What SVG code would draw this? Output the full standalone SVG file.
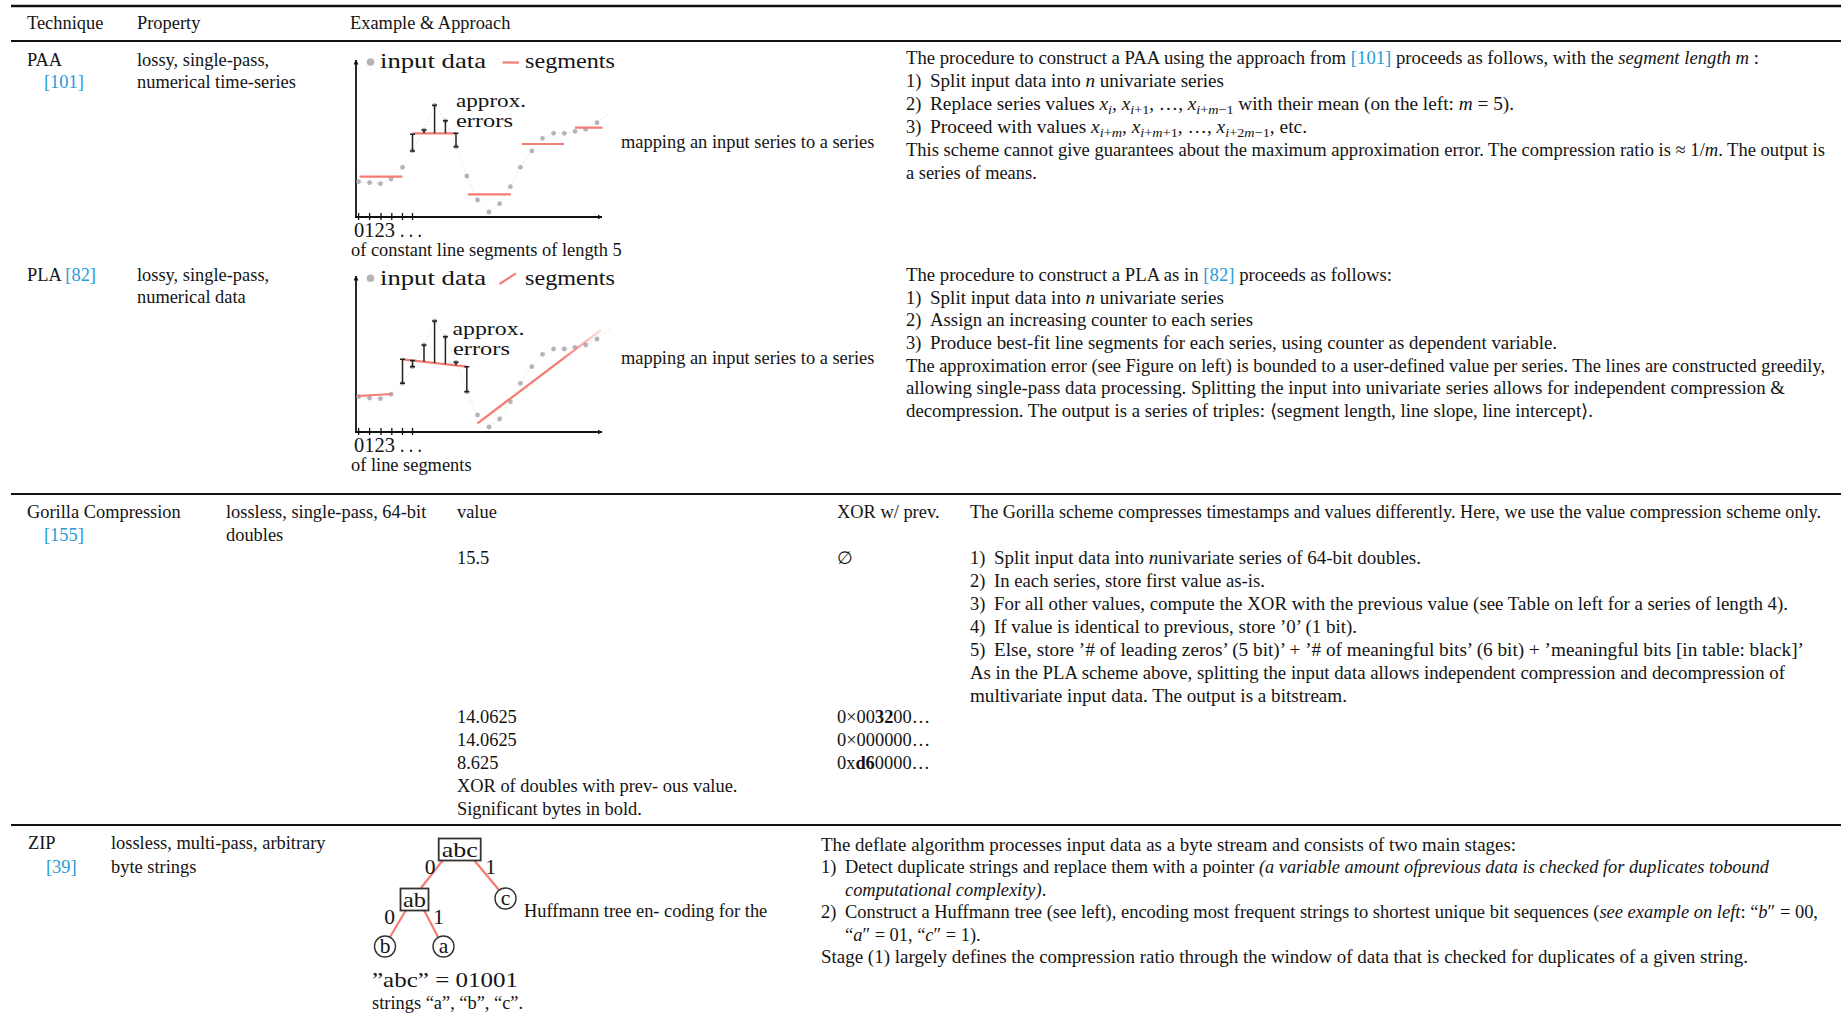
<svg xmlns="http://www.w3.org/2000/svg" width="1847" height="1028" viewBox="0 0 1847 1028">
<style>
.t{font-family:'Liberation Serif','Times New Roman',serif;font-size:18.4px;fill:#141414}
.cm{font-family:'Liberation Serif','Times New Roman',serif;font-size:21px;fill:#141414}
.cs{font-family:'Liberation Serif','Times New Roman',serif;font-size:18px;fill:#141414}
.tr{font-family:'Liberation Serif','Times New Roman',serif;font-size:21.5px;fill:#141414}
.c{fill:#2a9bd6}
.i{font-style:italic}
.b{font-weight:bold}
.rule{stroke:#111;stroke-width:2.2}
.ax{stroke:#111;stroke-width:1.8;fill:none}
.seg{stroke:#f47c74;stroke-width:2.2;fill:none}
.dot{fill:#b3b3b8}
.faint{stroke:#e2e2e4;stroke-width:1;stroke-dasharray:1.5 2;fill:none}
.err{stroke:#222;stroke-width:1.5;fill:none}
.edge{stroke:#f47c74;stroke-width:2.2}
.nbox{fill:#fff;stroke:#333;stroke-width:1.8}
.ncirc{fill:#fff;stroke:#333;stroke-width:1.4}
.sub{font-size:13.5px}
</style>
<defs>
<marker id="arr" viewBox="0 0 10 10" refX="9" refY="5" markerWidth="5" markerHeight="5" orient="auto" markerUnits="userSpaceOnUse">
<path d="M0,0 L10,5 L0,10 z" fill="#111"/>
</marker>
<linearGradient id="fade" gradientUnits="userSpaceOnUse" x1="560" y1="360" x2="602" y2="329">
<stop offset="0" stop-color="#f47c74" stop-opacity="1"/>
<stop offset="1" stop-color="#f47c74" stop-opacity="0.2"/>
</linearGradient>
</defs>
<rect width="1847" height="1028" fill="#fff"/>

<g id="rules">
<line class="rule" x1="11" y1="6" x2="1841" y2="6" style="stroke-width:2.5"/>
<line class="rule" x1="11" y1="41" x2="1841" y2="41"/>
<line class="rule" x1="11" y1="494" x2="1841" y2="494"/>
<line class="rule" x1="11" y1="825" x2="1841" y2="825"/>
</g>

<g id="header" class="t">
<text x="27" y="29">Technique</text>
<text x="137" y="29">Property</text>
<text x="350" y="29">Example &amp; Approach</text>
</g>

<!-- PAA row -->
<g id="paa-row">
<g class="t">
<text x="27" y="66">PAA</text>
<text x="44" y="87.5" class="c">[101]</text>
<text x="137" y="66">lossy, single-pass,</text>
<text x="137" y="88">numerical time-series</text>
</g>
<g id="paa-chart">
<polyline class="faint" points="358.6,181.7 369.6,182.7 380.4,183.7 391,179 402.5,167.3 412.5,150.7 424,130 434.6,105.3 445.4,120.7 456,146.7 466.8,176 477.5,200 489,212 499.6,203.7 510.4,186.7 520.4,167.3 531.8,151 542.5,138.3 553.6,133.3 564.3,133.3 575,131.3 585.7,129.3 597,122.7 611,112"/>
<line class="ax" x1="356" y1="218" x2="356" y2="60" marker-end="url(#arr)"/>
<line class="ax" x1="355" y1="217" x2="602" y2="217" marker-end="url(#arr)"/>
<path class="ax" style="stroke-width:1.3" d="M358.6,213V220M369.6,213V220M381,213V220M391.8,213V220M402.5,213V220M412.5,213V220"/>
<g class="dot">
<circle cx="358.6" cy="181.7" r="2.4"/><circle cx="369.6" cy="182.7" r="2.4"/><circle cx="380.4" cy="183.7" r="2.4"/><circle cx="391" cy="179" r="2.4"/><circle cx="402.5" cy="167.3" r="2.4"/><circle cx="412.5" cy="150.7" r="2.4"/><circle cx="424" cy="130" r="2.4"/><circle cx="434.6" cy="105.3" r="2.4"/><circle cx="445.4" cy="120.7" r="2.4"/><circle cx="456" cy="146.7" r="2.4"/><circle cx="466.8" cy="176" r="2.4"/><circle cx="477.5" cy="200" r="2.4"/><circle cx="489" cy="212" r="2.4"/><circle cx="499.6" cy="203.7" r="2.4"/><circle cx="510.4" cy="186.7" r="2.4"/><circle cx="520.4" cy="167.3" r="2.4"/><circle cx="531.8" cy="151" r="2.4"/><circle cx="542.5" cy="138.3" r="2.4"/><circle cx="553.6" cy="133.3" r="2.4"/><circle cx="564.3" cy="133.3" r="2.4"/><circle cx="575" cy="131.3" r="2.4"/><circle cx="585.7" cy="129.3" r="2.4"/><circle cx="597" cy="122.7" r="2.4"/>
</g>
<path class="seg" d="M359.6,176.7H402.5M412.5,133.3H456M467.9,194.3H510.7M522,144H564M575,127.7H602.5"/>
<path class="err" d="M412.5,134.3V151M410,134.3H415M410,151H415M424,130V133.3M421.5,130H426.5M434.6,105.3V133.3M432.1,105.3H437.1M445.4,120.7V133.3M442.9,120.7H447.9M456,133.3V146.7M453.5,146.7H458.5M453.5,133.3H458.5"/>
<circle class="dot" cx="370.5" cy="62" r="3.8"/>
<line class="seg" x1="502.5" y1="62.5" x2="519" y2="62.5"/>
<text class="cm" x="380" y="68" textLength="106" lengthAdjust="spacingAndGlyphs">input data</text>
<text class="cm" x="525" y="68" textLength="90" lengthAdjust="spacingAndGlyphs">segments</text>
<text class="cs" x="456" y="106.5" textLength="70" lengthAdjust="spacingAndGlyphs">approx.</text>
<text class="cs" x="456" y="126.5" textLength="57" lengthAdjust="spacingAndGlyphs">errors</text>
<text class="cm" x="354" y="237" textLength="41" lengthAdjust="spacingAndGlyphs">0123</text>
<text class="cm" x="400" y="237" textLength="22" lengthAdjust="spacingAndGlyphs">. . .</text>
<text class="t" x="621" y="148">mapping an input series to a series</text>
<text class="t" x="351" y="256">of constant line segments of length 5</text>
</g>
<g id="paa-text" class="t">
<text x="906" y="64" textLength="853" lengthAdjust="spacingAndGlyphs">The procedure to construct a PAA using the approach from <tspan class="c">[101]</tspan> proceeds as follows, with the <tspan class="i">segment length m</tspan> :</text>
<text x="906" y="87">1)</text><text x="930" y="87" textLength="294" lengthAdjust="spacingAndGlyphs">Split input data into <tspan class="i">n</tspan> univariate series</text>
<text x="906" y="110">2)</text><text x="930" y="110" textLength="584" lengthAdjust="spacingAndGlyphs">Replace series values <tspan class="i">x</tspan><tspan class="sub i" dy="4">i</tspan><tspan dy="-4">, </tspan><tspan class="i">x</tspan><tspan class="sub" dy="4"><tspan class="i">i</tspan>+1</tspan><tspan dy="-4">, …, </tspan><tspan class="i">x</tspan><tspan class="sub" dy="4"><tspan class="i">i</tspan>+<tspan class="i">m</tspan>−1</tspan><tspan dy="-4"> with their mean (on the left: </tspan><tspan class="i">m</tspan> = 5).</text>
<text x="906" y="133">3)</text><text x="930" y="133" textLength="377" lengthAdjust="spacingAndGlyphs">Proceed with values <tspan class="i">x</tspan><tspan class="sub" dy="4"><tspan class="i">i</tspan>+<tspan class="i">m</tspan></tspan><tspan dy="-4">, </tspan><tspan class="i">x</tspan><tspan class="sub" dy="4"><tspan class="i">i</tspan>+<tspan class="i">m</tspan>+1</tspan><tspan dy="-4">, …, </tspan><tspan class="i">x</tspan><tspan class="sub" dy="4"><tspan class="i">i</tspan>+2<tspan class="i">m</tspan>−1</tspan><tspan dy="-4">, etc.</tspan></text>
<text x="906" y="156" textLength="919" lengthAdjust="spacingAndGlyphs">This scheme cannot give guarantees about the maximum approximation error. The compression ratio is ≈ 1/<tspan class="i">m</tspan>. The output is</text>
<text x="906" y="179">a series of means.</text>
</g>
</g>

<!-- PLA row -->
<g id="pla-row">
<g class="t">
<text x="27" y="281">PLA <tspan class="c">[82]</tspan></text>
<text x="137" y="281">lossy, single-pass,</text>
<text x="137" y="303">numerical data</text>
</g>
<g id="pla-chart">
<polyline class="faint" points="358.6,396.7 369.6,398 380.4,398.7 391,394.3 402.5,383.3 412.5,366.7 424,345 434.6,321 445.4,336.7 456,362.3 466.8,391.7 477.5,415 489,427 499.6,419 510.4,401.7 520.4,383.3 531.8,366.7 542.5,354.3 553.6,349 564.3,349 575,347.3 585.7,345 597,339 611,328"/>
<line class="ax" x1="356" y1="433" x2="356" y2="276" marker-end="url(#arr)"/>
<line class="ax" x1="355" y1="432" x2="602" y2="432" marker-end="url(#arr)"/>
<path class="ax" style="stroke-width:1.3" d="M358.6,428V435M369.6,428V435M381,428V435M391.8,428V435M402.5,428V435M412.5,428V435"/>
<g class="dot">
<circle cx="358.6" cy="396.7" r="2.4"/><circle cx="369.6" cy="398" r="2.4"/><circle cx="380.4" cy="398.7" r="2.4"/><circle cx="391" cy="394.3" r="2.4"/><circle cx="402.5" cy="383.3" r="2.4"/><circle cx="412.5" cy="366.7" r="2.4"/><circle cx="424" cy="345" r="2.4"/><circle cx="434.6" cy="321" r="2.4"/><circle cx="445.4" cy="336.7" r="2.4"/><circle cx="456" cy="362.3" r="2.4"/><circle cx="466.8" cy="391.7" r="2.4"/><circle cx="477.5" cy="415" r="2.4"/><circle cx="489" cy="427" r="2.4"/><circle cx="499.6" cy="419" r="2.4"/><circle cx="510.4" cy="401.7" r="2.4"/><circle cx="520.4" cy="383.3" r="2.4"/><circle cx="531.8" cy="366.7" r="2.4"/><circle cx="542.5" cy="354.3" r="2.4"/><circle cx="553.6" cy="349" r="2.4"/><circle cx="564.3" cy="349" r="2.4"/><circle cx="575" cy="347.3" r="2.4"/><circle cx="585.7" cy="345" r="2.4"/><circle cx="597" cy="339" r="2.4"/>
</g>
<path class="seg" d="M357.9,396L391.8,394M402.5,359.3L466.8,366.7"/>
<line x1="477.5" y1="423.3" x2="601" y2="330" stroke="url(#fade)" stroke-width="2.2"/>
<path class="err" d="M402.5,359.3V383.3M400,359.3H405M400,383.3H405M412.5,360.5V366.7M410,360.5H415M410,366.7H415M424,345V361.8M421.5,345H426.5M434.6,321V363M432.1,321H437.1M445.4,336.7V364.2M442.9,336.7H447.9M456,362.3V365.5M453.5,362.3H458.5M466.8,366.7V391.7M464.3,366.7H469.3M464.3,391.7H469.3"/>
<circle class="dot" cx="370.5" cy="278.3" r="3.8"/>
<line class="seg" x1="499.6" y1="284" x2="516" y2="273.3"/>
<text class="cm" x="380" y="284.5" textLength="106" lengthAdjust="spacingAndGlyphs">input data</text>
<text class="cm" x="525" y="284.5" textLength="90" lengthAdjust="spacingAndGlyphs">segments</text>
<text class="cs" x="452.5" y="334.5" textLength="72" lengthAdjust="spacingAndGlyphs">approx.</text>
<text class="cs" x="453" y="354.5" textLength="57" lengthAdjust="spacingAndGlyphs">errors</text>
<text class="cm" x="354" y="452" textLength="41" lengthAdjust="spacingAndGlyphs">0123</text>
<text class="cm" x="400" y="452" textLength="22" lengthAdjust="spacingAndGlyphs">. . .</text>
<text class="t" x="621" y="364">mapping an input series to a series</text>
<text class="t" x="351" y="471">of line segments</text>
</g>
<g id="pla-text" class="t">
<text x="906" y="281" textLength="486" lengthAdjust="spacingAndGlyphs">The procedure to construct a PLA as in <tspan class="c">[82]</tspan> proceeds as follows:</text>
<text x="906" y="303.5">1)</text><text x="930" y="303.5" textLength="294" lengthAdjust="spacingAndGlyphs">Split input data into <tspan class="i">n</tspan> univariate series</text>
<text x="906" y="326">2)</text><text x="930" y="326" textLength="323" lengthAdjust="spacingAndGlyphs">Assign an increasing counter to each series</text>
<text x="906" y="348.5">3)</text><text x="930" y="348.5" textLength="627" lengthAdjust="spacingAndGlyphs">Produce best-fit line segments for each series, using counter as dependent variable.</text>
<text x="906" y="371.5" textLength="919" lengthAdjust="spacingAndGlyphs">The approximation error (see Figure on left) is bounded to a user-defined value per series. The lines are constructed greedily,</text>
<text x="906" y="394" textLength="879" lengthAdjust="spacingAndGlyphs">allowing single-pass data processing. Splitting the input into univariate series allows for independent compression &amp;</text>
<text x="906" y="417" textLength="687" lengthAdjust="spacingAndGlyphs">decompression. The output is a series of triples: ⟨segment length, line slope, line intercept⟩.</text>
</g>
</g>

<!-- Gorilla row -->
<g id="gorilla-row" class="t">
<text x="27" y="518">Gorilla Compression</text>
<text x="44" y="541" class="c">[155]</text>
<text x="226" y="518">lossless, single-pass, 64-bit</text>
<text x="226" y="541">doubles</text>
<text x="457" y="518">value</text>
<text x="837" y="518">XOR w/ prev.</text>
<text x="457" y="564">15.5</text>
<text x="837" y="564">∅</text>
<text x="457" y="723">14.0625</text>
<text x="837" y="723">0×00<tspan class="b">32</tspan>00…</text>
<text x="457" y="746">14.0625</text>
<text x="837" y="746">0×000000…</text>
<text x="457" y="769">8.625</text>
<text x="837" y="769">0x<tspan class="b">d6</tspan>0000…</text>
<text x="457" y="792">XOR of doubles with prev- ous value.</text>
<text x="457" y="815">Significant bytes in bold.</text>
<text x="970" y="518" textLength="851" lengthAdjust="spacingAndGlyphs">The Gorilla scheme compresses timestamps and values differently. Here, we use the value compression scheme only.</text>
<text x="970" y="564">1)</text><text x="994" y="564" textLength="427" lengthAdjust="spacingAndGlyphs">Split input data into <tspan class="i">n</tspan>univariate series of 64-bit doubles.</text>
<text x="970" y="587">2)</text><text x="994" y="587" textLength="271" lengthAdjust="spacingAndGlyphs">In each series, store first value as-is.</text>
<text x="970" y="610">3)</text><text x="994" y="610" textLength="794" lengthAdjust="spacingAndGlyphs">For all other values, compute the XOR with the previous value (see Table on left for a series of length 4).</text>
<text x="970" y="633">4)</text><text x="994" y="633" textLength="363" lengthAdjust="spacingAndGlyphs">If value is identical to previous, store ’0’ (1 bit).</text>
<text x="970" y="656">5)</text><text x="994" y="656" textLength="810" lengthAdjust="spacingAndGlyphs">Else, store ’# of leading zeros’ (5 bit)’ + ’# of meaningful bits’ (6 bit) + ’meaningful bits [in table: black]’</text>
<text x="970" y="679" textLength="815" lengthAdjust="spacingAndGlyphs">As in the PLA scheme above, splitting the input data allows independent compression and decompression of</text>
<text x="970" y="701.5" textLength="377" lengthAdjust="spacingAndGlyphs">multivariate input data. The output is a bitstream.</text>
</g>

<!-- ZIP row -->
<g id="zip-row">
<g class="t">
<text x="28" y="849">ZIP</text>
<text x="46" y="872.5" class="c">[39]</text>
<text x="111" y="849">lossless, multi-pass, arbitrary</text>
<text x="111" y="872.5">byte strings</text>
</g>
<g id="zip-tree">
<g id="connectors">
<line class="edge" x1="443" y1="860" x2="421" y2="888"/>
<line class="edge" x1="474" y1="860" x2="499" y2="890"/>
<line class="edge" x1="406" y1="910" x2="390" y2="937"/>
<line class="edge" x1="424" y1="910" x2="438" y2="937"/>
</g>
<g id="node-abc"><rect class="nbox" x="438.7" y="838.5" width="42" height="22"/><text class="tr" x="459.7" y="856.5" text-anchor="middle" textLength="36" lengthAdjust="spacingAndGlyphs">abc</text></g>
<g id="node-ab"><rect class="nbox" x="400.5" y="888.5" width="28" height="22"/><text class="tr" x="414.5" y="906.5" text-anchor="middle" textLength="23" lengthAdjust="spacingAndGlyphs">ab</text></g>
<g id="node-c"><circle class="ncirc" cx="505.5" cy="898.5" r="10.5"/><text class="tr" x="505.5" y="904.5" text-anchor="middle">c</text></g>
<g id="node-b"><circle class="ncirc" cx="385" cy="946.5" r="10.5"/><text class="tr" x="385" y="953" text-anchor="middle">b</text></g>
<g id="node-a"><circle class="ncirc" cx="443.5" cy="946.5" r="10.5"/><text class="tr" x="443.5" y="953" text-anchor="middle">a</text></g>
<text class="tr" x="430" y="873.5" text-anchor="middle">0</text>
<text class="tr" x="490.5" y="873.5" text-anchor="middle">1</text>
<text class="tr" x="389.5" y="923.5" text-anchor="middle">0</text>
<text class="tr" x="438.5" y="923.5" text-anchor="middle">1</text>
<text class="tr" x="372" y="987" textLength="146" lengthAdjust="spacingAndGlyphs">”abc” = 01001</text>
<text class="t" x="524" y="917">Huffmann tree en- coding for the</text>
<text class="t" x="372" y="1008.5">strings “a”, “b”, “c”.</text>
</g>
<g id="zip-text" class="t">
<text x="821" y="850.5" textLength="695" lengthAdjust="spacingAndGlyphs">The deflate algorithm processes input data as a byte stream and consists of two main stages:</text>
<text x="821" y="873">1)</text><text x="845" y="873" textLength="924" lengthAdjust="spacingAndGlyphs">Detect duplicate strings and replace them with a pointer <tspan class="i">(a variable amount ofprevious data is checked for duplicates tobound</tspan></text>
<text x="845" y="895.5"><tspan class="i">computational complexity)</tspan>.</text>
<text x="821" y="918">2)</text><text x="845" y="918" textLength="973" lengthAdjust="spacingAndGlyphs">Construct a Huffmann tree (see left), encoding most frequent strings to shortest unique bit sequences (<tspan class="i">see example on left</tspan>: “<tspan class="i">b</tspan>″ = 00,</text>
<text x="845" y="940.5">“<tspan class="i">a</tspan>″ = 01, “<tspan class="i">c</tspan>″ = 1).</text>
<text x="821" y="963" textLength="927" lengthAdjust="spacingAndGlyphs">Stage (1) largely defines the compression ratio through the window of data that is checked for duplicates of a given string.</text>
</g>
</g>
</svg>
